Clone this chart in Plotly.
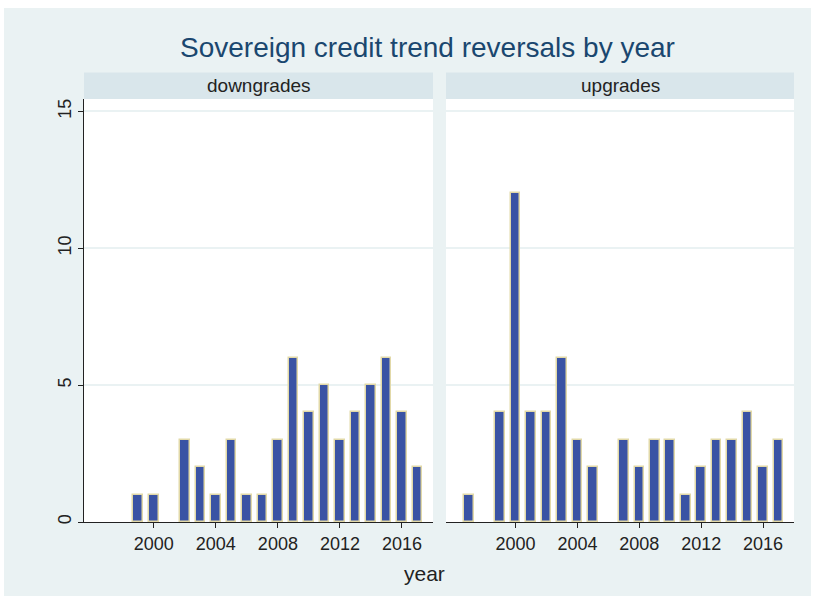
import plotly.graph_objects as go

# ---- data ----
down_years = [1999, 2000, 2002, 2003, 2004, 2005, 2006, 2007, 2008, 2009,
              2010, 2011, 2012, 2013, 2014, 2015, 2016, 2017]
down_counts = [1, 1, 3, 2, 1, 3, 1, 1, 3, 6, 4, 5, 3, 4, 5, 6, 4, 2]

up_years = [1997, 1999, 2000, 2001, 2002, 2003, 2004, 2005, 2007, 2008,
            2009, 2010, 2011, 2012, 2013, 2014, 2015, 2016, 2017]
up_counts = [1, 4, 12, 4, 4, 6, 3, 2, 3, 2, 3, 3, 1, 2, 3, 3, 4, 2, 3]

panel_labels = ["downgrades", "upgrades"]
x_ticks = [2000, 2004, 2008, 2012, 2016]
y_ticks = [0, 5, 10, 15]
title = "Sovereign credit trend reversals by year"
x_title = "year"

# ---- style ----
W, H = 815, 600
ML, MR, MT, MB = 84, 21, 99, 78
BG = "#eaf2f3"
STRIP = "#d9e6eb"
BAR = "#3a53a4"
EDGE = "#e2d9a8"
NAVY = "#1a476f"
FONT = "Liberation Sans, Arial, sans-serif"

pw = W - ML - MR
ph = H - MT - MB
dom1 = [0, (433 - ML) / pw]
dom2 = [(446 - ML) / pw, 1]

fig = go.Figure()
for i, (xs, ys) in enumerate([(down_years, down_counts), (up_years, up_counts)]):
    fig.add_trace(go.Bar(
        x=xs, y=ys, width=0.62,
        marker=dict(color=BAR, line=dict(color=EDGE, width=1.5)),
        xaxis="x" if i == 0 else "x2", yaxis="y" if i == 0 else "y2",
        showlegend=False, hoverinfo="x+y",
    ))

xcommon = dict(range=[1995.5, 2018], tickvals=x_ticks, ticks="outside", ticklen=5,
               tickcolor="#222", showline=True, linecolor="#222", linewidth=1.2,
               showgrid=False, zeroline=False,
               tickfont=dict(size=18, color="#222", family=FONT))
ycommon = dict(range=[0, 15.45], tickvals=y_ticks, showgrid=True,
               gridcolor=BG, gridwidth=1.5, zeroline=False)

fig.update_layout(
    width=W, height=H,
    margin=dict(l=ML, r=MR, t=MT, b=MB),
    paper_bgcolor="white", plot_bgcolor="white",
    font=dict(family=FONT, color="#222"),
    bargap=0,
    xaxis=dict(xcommon, domain=dom1, anchor="y"),
    xaxis2=dict(xcommon, domain=dom2, anchor="y2"),
    yaxis=dict(ycommon, domain=[0, 1], anchor="x", showline=True, linecolor="#222",
               linewidth=1.2, ticks="outside", ticklen=5, tickcolor="#222",
               tickangle=-90, tickfont=dict(size=18, color="#222", family=FONT)),
    yaxis2=dict(ycommon, domain=[0, 1], anchor="x2", showticklabels=False,
                showline=False, ticks=""),
)


def px2paper_x(px):
    return (px - ML) / pw


def px2paper_y(py):
    return (H - MB - py) / ph


shapes = [dict(type="rect", xref="paper", yref="paper",
               x0=px2paper_x(4), x1=px2paper_x(811),
               y0=px2paper_y(596), y1=px2paper_y(8),
               fillcolor=BG, line=dict(width=0), layer="below")]
for d in (dom1, dom2):
    shapes.append(dict(type="rect", xref="paper", yref="paper",
                       x0=d[0], x1=d[1], y0=0, y1=1,
                       fillcolor="white", line=dict(width=0), layer="below"))
    shapes.append(dict(type="rect", xref="paper", yref="paper",
                       x0=d[0], x1=d[1], y0=1, y1=px2paper_y(72.5),
                       fillcolor=STRIP, line=dict(width=0), layer="below"))
fig.update_layout(shapes=shapes)

annotations = []
for d, lab in zip((dom1, dom2), panel_labels):
    annotations.append(dict(text=lab, xref="paper", yref="paper",
                            x=(d[0] + d[1]) / 2, y=px2paper_y(85.5),
                            showarrow=False, xanchor="center", yanchor="middle",
                            font=dict(size=19, color="#222", family=FONT)))
annotations.append(dict(text=title, xref="paper", yref="paper",
                        x=px2paper_x(427), y=px2paper_y(47),
                        showarrow=False, xanchor="center", yanchor="middle",
                        font=dict(size=28, color=NAVY, family=FONT)))
annotations.append(dict(text=x_title, xref="paper", yref="paper",
                        x=px2paper_x(424), y=px2paper_y(573),
                        showarrow=False, xanchor="center", yanchor="middle",
                        font=dict(size=21, color="#222", family=FONT)))
fig.update_layout(annotations=annotations)

fig.write_html("out.html", config={"displayModeBar": False},
               post_script="document.body.style.margin='0';")
